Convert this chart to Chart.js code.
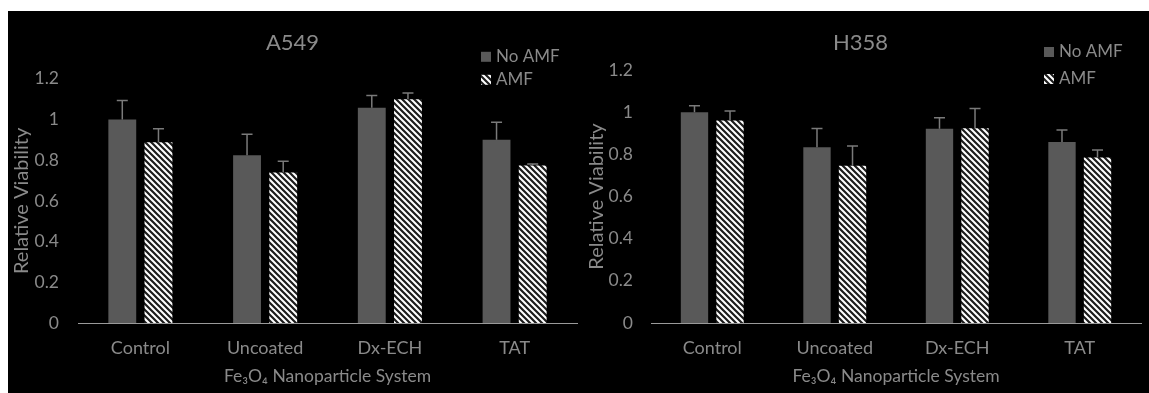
<!DOCTYPE html>
<html><head><meta charset="utf-8">
<script src="https://cdn.jsdelivr.net/npm/chart.js@4.4.1/dist/chart.umd.min.js"></script>
<style>
html,body{margin:0;padding:0;background:#fff;width:1149px;height:393px;overflow:hidden}
#bg{position:absolute;left:8px;top:11px;width:1141px;height:382px;background:#000}
#w1{position:absolute;left:8px;top:11px;width:572px;height:382px}
#w2{position:absolute;left:580px;top:11px;width:569px;height:382px}
</style></head><body>
<div id="bg"></div>
<div id="w1"><canvas id="c1"></canvas></div>
<div id="w2"><canvas id="c2"></canvas></div>
<script>
// ---- data ----
const categories = ['Control', 'Uncoated', 'Dx-ECH', 'TAT'];
const seriesNames = ['No AMF', 'AMF'];
const yTicks = [0, 0.2, 0.4, 0.6, 0.8, 1, 1.2];
const yTickLabels = ['0', '0.2', '0.4', '0.6', '0.8', '1', '1.2'];
const xTitle = 'Fe\u2083O\u2084 Nanoparticle System';
const yTitle = 'Relative Viability';

const a549NoAMF    = [1.00, 0.824, 1.058, 0.900];
const a549AMF      = [0.888, 0.739, 1.100, 0.774];
const a549NoAMFErr = [0.093, 0.103, 0.060, 0.087];
const a549AMFErr   = [0.067, 0.056, 0.030, 0.007];

const h358NoAMF    = [1.00, 0.834, 0.921, 0.859];
const h358AMF      = [0.960, 0.746, 0.924, 0.785];
const h358NoAMFErr = [0.030, 0.089, 0.052, 0.056];
const h358AMFErr   = [0.045, 0.093, 0.093, 0.035];

// ---- styles ----
const FONT = "Lato, 'Open Sans', sans-serif";
const TXT = '#8a8a8a';

function hatchPattern() {
  const c = document.createElement('canvas');
  c.width = 6; c.height = 6;
  const g = c.getContext('2d');
  g.fillStyle = '#ffffff'; g.fillRect(0, 0, 6, 6);
  g.strokeStyle = '#1c1c1c'; g.lineWidth = 2.2;
  g.beginPath();
  g.moveTo(-3, -3); g.lineTo(9, 9);
  g.moveTo(-3, 3); g.lineTo(3, 9);
  g.moveTo(3, -3); g.lineTo(9, 3);
  g.stroke();
  return g.createPattern(c, 'repeat');
}

const errorBars = {
  id: 'errorBars',
  afterDatasetsDraw(chart, args, o) {
    const ctx = chart.ctx, y = chart.scales.y;
    chart.data.datasets.forEach((ds, i) => {
      const meta = chart.getDatasetMeta(i);
      meta.data.forEach((bar, j) => {
        const top = y.getPixelForValue(ds.data[j] + ds.errors[j]);
        ctx.save();
        ctx.strokeStyle = o.color; ctx.lineWidth = o.width;
        ctx.beginPath();
        ctx.moveTo(bar.x, bar.y); ctx.lineTo(bar.x, top);
        ctx.moveTo(bar.x - o.cap / 2, top); ctx.lineTo(bar.x + o.cap / 2, top);
        ctx.stroke();
        ctx.restore();
      });
    });
  }
};

const boxLegend = {
  id: 'boxLegend',
  afterDraw(chart, args, o) {
    const ctx = chart.ctx, a = chart.chartArea;
    chart.data.datasets.forEach((ds, i) => {
      const cy = a.top + o.dy + i * o.rowGap;
      const x = a.right - o.dx;
      ctx.save();
      ctx.fillStyle = ds.backgroundColor;
      ctx.fillRect(x, cy - o.box / 2, o.box, o.box);
      ctx.fillStyle = TXT;
      ctx.font = '17px ' + FONT;
      ctx.textBaseline = 'middle'; ctx.textAlign = 'left';
      ctx.fillText(ds.label, x + o.box + o.gap, cy);
      ctx.restore();
    });
  }
};

function makeChart(id, title, noAmf, amf, noErr, amfErr, L) {
  const pat = hatchPattern();
  return new Chart(document.getElementById(id), {
    type: 'bar',
    data: {
      labels: categories,
      datasets: [
        { label: seriesNames[0], data: noAmf, errors: noErr, backgroundColor: '#595959',
          borderWidth: 0, categoryPercentage: 0.58, barPercentage: 0.77 },
        { label: seriesNames[1], data: amf, errors: amfErr, backgroundColor: pat,
          borderWidth: 0, categoryPercentage: 0.58, barPercentage: 0.77 }
      ]
    },
    options: {
      responsive: true, maintainAspectRatio: false, animation: false, events: [],
      layout: { padding: { left: 0, right: L.padRight, top: 0, bottom: 0 } },
      plugins: {
        legend: { display: false },
        tooltip: { enabled: false },
        title: { display: true, text: title, color: TXT,
          font: { family: FONT, size: 22, weight: 'normal' },
          padding: { top: 18.8, bottom: L.titleBottom } },
        errorBars: { color: '#7a7a7a', width: 1.5, cap: 11 },
        boxLegend: { dx: L.legDx, dy: L.legDy, rowGap: L.legGap, box: 10, gap: 5 }
      },
      scales: {
        x: {
          grid: { display: false, drawTicks: false },
          border: { display: true, color: '#9a9a9a', width: 1 },
          ticks: { color: TXT, font: { family: FONT, size: 18 }, padding: 14.2 },
          title: { display: true, text: xTitle, color: TXT,
            font: { family: FONT, size: 17.5 }, padding: { top: 0, bottom: 6 } },
          afterFit(s) { s.height = 70; }
        },
        y: {
          min: 0, max: 1.2,
          grid: { display: false, drawTicks: false },
          border: { display: false },
          afterBuildTicks(s) { s.ticks = yTicks.map(v => ({ value: v })); },
          ticks: { color: TXT, font: { family: FONT, size: 17.5 }, padding: L.tickPad,
            callback: (v) => yTickLabels[yTicks.findIndex(t => Math.abs(t - v) < 1e-9)] },
          title: { display: true, text: yTitle, color: TXT,
            font: { family: FONT, size: 20 }, padding: { top: L.yTitlePad, bottom: 0 } },
          afterFit(s) { s.width = L.yw; }
        }
      }
    },
    plugins: [errorBars, boxLegend]
  });
}

makeChart('c1', 'A549', a549NoAMF, a549AMF, a549NoAMFErr, a549AMFErr,
  { padRight: 3, titleBottom: 22.6, yw: 70, tickPad: 19, yTitlePad: 2,
    legDx: 96, legDy: -22, legGap: 23 });
makeChart('c2', 'H358', h358NoAMF, h358AMF, h358NoAMFErr, h358AMFErr,
  { padRight: 8, titleBottom: 13.8, yw: 71, tickPad: 18, yTitlePad: 5,
    legDx: 97, legDy: -18, legGap: 27 });
</script>
</body></html>
